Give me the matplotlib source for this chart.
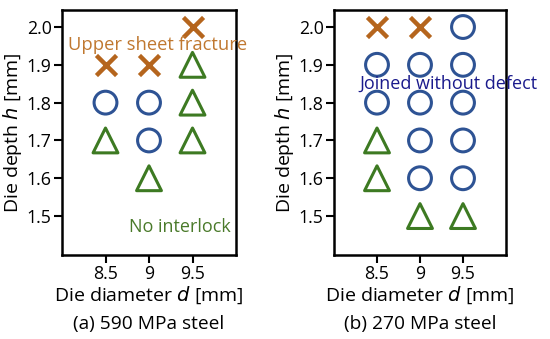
import matplotlib
matplotlib.use("Agg")
import matplotlib.pyplot as plt

plt.rcParams['font.family'] = ['Open Sans', 'DejaVu Sans']

# Panel (a) 590 MPa steel
a_circle_d = [8.5, 9.0, 9.0]
a_circle_h = [1.8, 1.8, 1.7]
a_tri_d = [9.5, 9.5, 8.5, 9.5, 9.0]
a_tri_h = [1.9, 1.8, 1.7, 1.7, 1.6]
a_x_d = [9.5, 8.5, 9.0]
a_x_h = [2.0, 1.9, 1.9]

# Panel (b) 270 MPa steel
b_circle_d = [9.5, 8.5, 9.0, 9.5, 8.5, 9.0, 9.5, 9.0, 9.5, 9.0, 9.5]
b_circle_h = [2.0, 1.9, 1.9, 1.9, 1.8, 1.8, 1.8, 1.7, 1.7, 1.6, 1.6]
b_tri_d = [8.5, 8.5, 9.0, 9.5]
b_tri_h = [1.7, 1.6, 1.5, 1.5]
b_x_d = [8.5, 9.0]
b_x_h = [2.0, 2.0]

xticks = [8.5, 9.0, 9.5]
xticklabels = ['8.5', '9', '9.5']
yticks = [1.5, 1.6, 1.7, 1.8, 1.9, 2.0]
yticklabels = ['1.5', '1.6', '1.7', '1.8', '1.9', '2.0']

C_CIRC = '#2e5394'
C_TRI = '#3d7a22'
C_X = '#b5651d'

fig = plt.figure(figsize=(5.5, 3.39), dpi=100)
W, H = 550, 339
axa = fig.add_axes([62 / W, 1 - 255 / H, (236 - 62) / W, (255 - 10) / H])
axb = fig.add_axes([334 / W, 1 - 255 / H, (506 - 334) / W, (255 - 10) / H])

TICK_FS = 12.8
LAB_FS = 14.0
CAP_FS = 13.8


def draw(ax, cd, ch, td, th, xd, xh, caption):
    ax.scatter(cd, ch, s=270, marker='o', facecolors='none', edgecolors=C_CIRC, linewidths=2.2, zorder=3)
    ax.scatter(td, th, s=320, marker='^', facecolors='none', edgecolors=C_TRI, linewidths=2.2, zorder=3)
    ax.scatter(xd, xh, s=210, marker='x', color=C_X, linewidths=3.2, zorder=3)
    ax.set_xlim(8.0, 10.0)
    ax.set_ylim(1.397, 2.045)
    ax.set_xticks(xticks)
    ax.set_xticklabels(xticklabels)
    ax.set_yticks(yticks)
    ax.set_yticklabels(yticklabels)
    ax.tick_params(direction='out', length=6, width=1.5, labelsize=TICK_FS, pad=1.5)
    for s in ax.spines.values():
        s.set_linewidth(1.8)
    ax.set_xlabel('Die diameter $d$ [mm]', fontsize=LAB_FS, labelpad=1)
    ax.set_ylabel('Die depth $h$ [mm]', fontsize=LAB_FS, labelpad=1.5)
    ax.text(0.5, -0.243, caption, transform=ax.transAxes, ha='center', va='top', fontsize=CAP_FS)


draw(axa, a_circle_d, a_circle_h, a_tri_d, a_tri_h, a_x_d, a_x_h, '(a) 590 MPa steel')
draw(axb, b_circle_d, b_circle_h, b_tri_d, b_tri_h, b_x_d, b_x_h, '(b) 270 MPa steel')

axa.text(8.07, 1.953, 'Upper sheet fracture', color='#c07830', fontsize=13.2, va='center', ha='left',
         clip_on=False, zorder=4)
axa.text(9.35, 1.47, 'No interlock', color='#4a7a2a', fontsize=13.0, va='center', ha='center', zorder=4)
axb.text(9.33, 1.85, 'Joined without defect', color='#1a1a8c', fontsize=13.0, va='center', ha='center',
         clip_on=False, zorder=4)

fig.savefig('out.png', dpi=100)
